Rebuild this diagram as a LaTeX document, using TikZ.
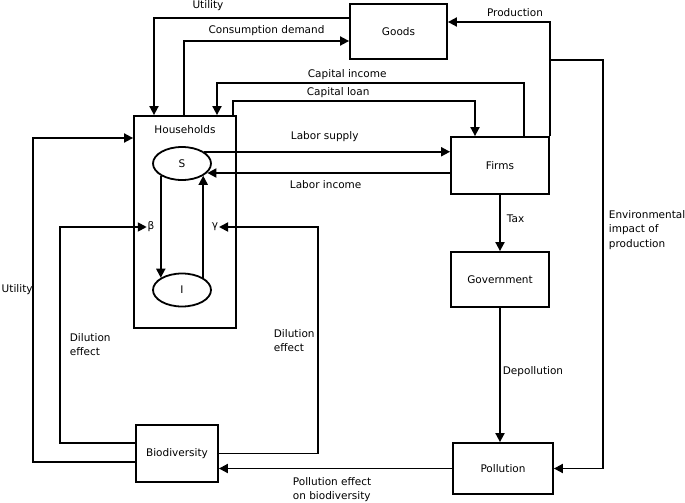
\documentclass[tikz,border=0pt]{standalone}
\usepackage{fontspec}
\setmainfont{DejaVu Sans}
\usetikzlibrary{arrows.meta,shapes.geometric}
\begin{document}
\begin{tikzpicture}[x=1pt,y=-1pt,line width=1.8pt,
    font=\fontsize{10.5}{14.5}\selectfont,
    arr/.style={-{Triangle[length=9pt,width=9pt]}},
    blk/.style={draw,inner sep=0pt},
    lbl/.style={inner sep=0pt,align=left},
    grp/.style={draw,ellipse,inner sep=0pt,minimum width=58pt,minimum height=33pt}]
  \useasboundingbox (0,0) rectangle (685,503);
  \node[blk,minimum width=97pt,minimum height=55pt] (gds) at (398.5,31.5) {Goods};
  \node[blk,minimum width=102pt,minimum height=212pt] (hh) at (185,222) {};
  \node[lbl] (hhl) at (185,130) {Households};
  \node[grp] (s) at (182,163.5) {S};
  \node[grp] (i) at (182,290) {I};
  \node[lbl] (bt) at (151,227) {β};
  \node[lbl] (gm) at (215,227) {γ};
  \node[blk,minimum width=98pt,minimum height=57pt] (frm) at (500,165.5) {Firms};
  \node[blk,minimum width=98pt,minimum height=55pt] (gov) at (500,279.5) {Government};
  \node[blk,minimum width=100pt,minimum height=51pt] (pol) at (503,468.5) {Pollution};
  \node[blk,minimum width=82pt,minimum height=57pt] (bio) at (177,453.5) {Biodiversity};

  \draw[arr] (gds.west |- 0,18) -| (hh.north -| 154,0);
  \draw[arr] (hh.north -| 184,0) |- (gds.west |- 0,41);
  \draw[arr] (frm.north -| 524,0) -- (524,83) -| (hh.north -| 217,0);
  \draw[arr] (hh.north -| 233,0) -- (233,101) -| (frm.north -| 475,0);
  \draw[arr] (frm.north east) |- (gds.east |- 0,22);
  \draw[arr] (frm.east |- 0,60) -- (603,60) |- (pol.east);
  \draw[arr] (s.28) -- (s.28 -| frm.west);
  \draw[arr] (frm.west |- 0,173) -- (s.-20 |- 0,173);
  \draw[arr] (s.210) -- (i.150);
  \draw[arr] (i.30) -- (s.330);
  \draw[arr] (bio.west |- 0,443) -| (bt.west -| 60,0) -- (bt.west);
  \draw[arr] (bio.east) -| (gm.east -| 318,0) -- (gm.east);
  \draw[arr] (bio.west |- 0,462) -| (33,138) -- (hh.west |- 0,138);
  \draw[arr] (pol.west) -- (pol.west -| bio.east);
  \draw[arr] (frm) -- (gov);
  \draw[arr] (gov.south) -- (pol.north -| gov.south);

  \node[lbl] (l1) at (208,6) {Utility};
  \node[lbl] (l2) at (266.5,31) {Consumption demand};
  \node[lbl,anchor=west] (l3) at (307,75) {Capital income};
  \node[lbl,anchor=west] (l4) at (306,93) {Capital loan};
  \node[lbl] (l5) at (515,13) {Production};
  \node[lbl,anchor=west] (l6) at (290,137) {Labor supply};
  \node[lbl,anchor=west] (l7) at (289,185) {Labor income};
  \node[lbl,anchor=west] (l8) at (506,219) {Tax};
  \node[lbl,anchor=west] (l9) at (502,372) {Depollution};
  \node[lbl,anchor=west] (l10) at (608,230) {Environmental\\impact of\\production};
  \node[lbl,anchor=west] (l11) at (0.8,290) {Utility};
  \node[lbl,anchor=west] (l12) at (69,344.5) {Dilution\\effect};
  \node[lbl,anchor=west] (l13) at (273,340.5) {Dilution\\effect};
  \node[lbl,anchor=west] (l14) at (292,489.5) {Pollution effect\\on biodiversity};
\end{tikzpicture}
\end{document}
